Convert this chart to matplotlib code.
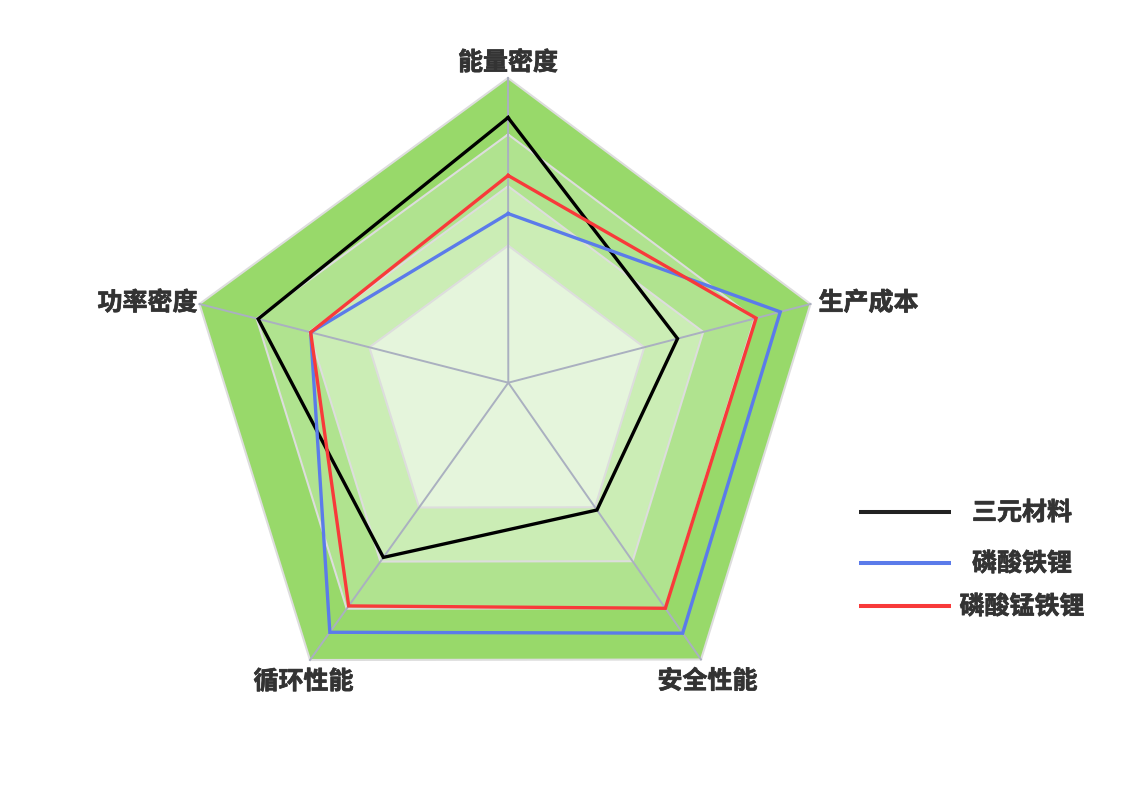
import numpy as np
import matplotlib.pyplot as plt
import matplotlib.patheffects as pe

plt.rcParams['font.family'] = ['Noto Sans CJK SC', 'DejaVu Sans']

# indicators, clockwise from the top
indicators = ['能量密度', '生产成本', '安全性能', '循环性能', '功率密度']
series_names = ['三元材料', '磷酸铁锂', '磷酸锰铁锂']
ncm_vals = [87, 56, 46, 63, 81]
lfp_vals = [55.5, 90, 90.5, 90, 64]
lmfp_vals = [68, 82, 81.5, 80.5, 64]
ring_levels = [45, 64.5, 81.5, 100]
max_val = 100

series_colors = ['#000000', '#5B7BEA', '#F83A3A']
legend_colors = ['#222222', '#5B7BEA', '#F83A3A']
ring_colors = ['#E5F5DC', '#CBEDB5', '#B0E38F', '#98D96A']
text_color = '#333333'

W, H = 1144, 789
fig = plt.figure(figsize=(W / 100, H / 100), dpi=100)
ax = fig.add_axes([0, 0, 1, 1])
ax.set_xlim(0, W)
ax.set_ylim(H, 0)
ax.axis('off')

# frame: outer corners of the radar (pixels), spokes meet at hub
hub = np.array([508.3, 382.7])
ends = np.array([[508, 78], [810.5, 304], [701, 659.5], [310, 660], [199.5, 304]])


def to_xy(vals):
    f = np.asarray(vals, float)[:, None] / max_val
    pts = hub + f * (ends - hub)
    return np.vstack([pts, pts[:1]])


# split areas, outer first
for lvl, col in reversed(list(zip(ring_levels, ring_colors))):
    p = to_xy([lvl] * len(indicators))
    ax.fill(p[:, 0], p[:, 1], color=col, lw=0, zorder=1)
for lvl in ring_levels:
    p = to_xy([lvl] * len(indicators))
    ax.plot(p[:, 0], p[:, 1], color='#DDDDDD', lw=1.5, zorder=2)

# spokes
for e in ends:
    ax.plot([hub[0], e[0]], [hub[1], e[1]], color='#AAB0C0', lw=1.4, zorder=3)

# series
for vals, col in zip([ncm_vals, lfp_vals, lmfp_vals], series_colors):
    p = to_xy(vals)
    ax.plot(p[:, 0], p[:, 1], color=col, lw=2.4, zorder=4,
            solid_joinstyle='miter')

# indicator names (thin stroke to get a heavier bold)
lab_kw = dict(fontsize=18, fontweight='bold', color=text_color,
              path_effects=[pe.withStroke(linewidth=0.5, foreground=text_color)])
for name, e in zip(indicators, ends):
    dx, dy = e - hub
    if abs(dx) > 250:
        ax.text(e[0] + (8 if dx > 0 else -2), e[1] - 1, name, va='center',
                ha='left' if dx > 0 else 'right', **lab_kw)
    elif dy < 0:
        ax.text(e[0], e[1] - 15, name, ha='center', va='center', **lab_kw)
    else:
        ax.text(e[0] + 6.5 * np.sign(dx), e[1] + 22, name,
                ha='center', va='center', **lab_kw)

# legend
leg_rows = [512, 563, 606]
for name, col, y in zip(series_names, legend_colors, leg_rows):
    ax.plot([859, 951], [y, y], color=col, lw=2.9, solid_capstyle='butt')
    ax.text(1022, y + 1, name, ha='center', va='center', **lab_kw)

fig.savefig('out.png', dpi=100)
